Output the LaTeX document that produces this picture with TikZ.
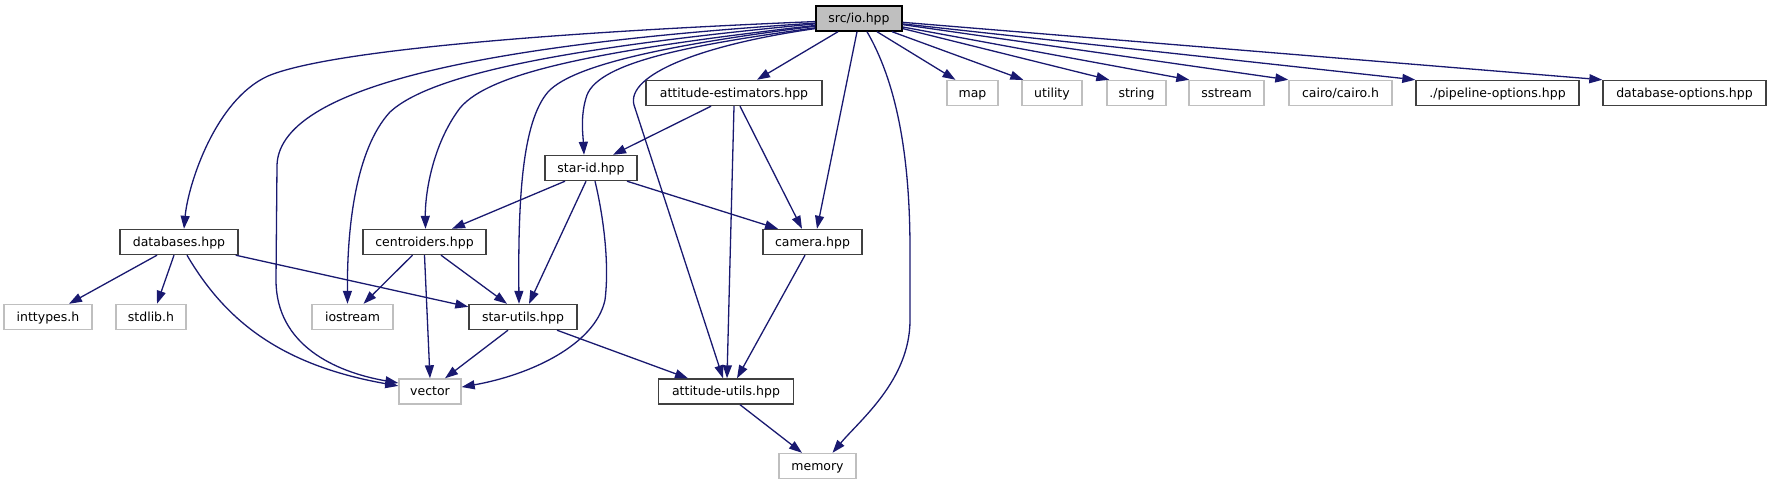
\documentclass[tikz,border=0pt]{standalone}
\usepackage{fontspec}
\setmainfont{DejaVu Sans}
\usetikzlibrary{arrows.meta}
\definecolor{edgeblue}{HTML}{191970}
\definecolor{boxdark}{HTML}{404040}
\definecolor{boxlight}{HTML}{BFBFBF}
\tikzset{
  filebox/.style={draw=boxdark, line width=1.4pt, fill=white, rectangle, inner sep=0pt,
    minimum height=25pt, font=\fontsize{12.5}{15}\selectfont, text height=10.5pt, text depth=2pt},
  sysbox/.style={filebox, draw=boxlight},
  rootbox/.style={filebox, draw=black, fill=boxlight},
  dep/.style={draw=edgeblue, line width=1.3pt, -{Triangle[length=13pt,width=9pt]}}
}
\begin{document}
\begin{tikzpicture}[x=1pt,y=-1pt]
\useasboundingbox (0,0) rectangle (1771,485);
% row 0
\node[rootbox, minimum width=86pt] (io) at (859,18.5) {src/io.hpp};
% row 1
\node[filebox, minimum width=176pt] (ae) at (734,93) {attitude-estimators.hpp};
\node[sysbox, minimum width=51pt] (map) at (972.5,93) {map};
\node[sysbox, minimum width=60pt] (utility) at (1052,93) {utility};
\node[sysbox, minimum width=59pt] (string) at (1136.5,93) {string};
\node[sysbox, minimum width=75pt] (sstream) at (1226.5,93) {sstream};
\node[sysbox, minimum width=103pt] (cairo) at (1340.5,93) {cairo/cairo.h};
\node[filebox, minimum width=163pt] (pipeline) at (1497.5,93) {./pipeline-options.hpp};
\node[filebox, minimum width=163pt] (dbopt) at (1684.5,93) {database-options.hpp};
% row 2
\node[filebox, minimum width=92pt] (starid) at (591,168) {star-id.hpp};
% row 3
\node[filebox, minimum width=118pt] (databases) at (179,242) {databases.hpp};
\node[filebox, minimum width=123pt] (centroiders) at (424.5,242) {centroiders.hpp};
\node[filebox, minimum width=99pt] (camera) at (812.5,242) {camera.hpp};
% row 4
\node[sysbox, minimum width=88pt] (inttypes) at (48,317) {inttypes.h};
\node[sysbox, minimum width=70pt] (stdlib) at (151,317) {stdlib.h};
\node[sysbox, minimum width=81pt] (iostream) at (352.5,317) {iostream};
\node[filebox, minimum width=108pt] (starutils) at (523,317) {star-utils.hpp};
% row 5
\node[sysbox, minimum width=62pt] (vector) at (430,391.5) {vector};
\node[filebox, minimum width=135pt] (attutils) at (726,391.5) {attitude-utils.hpp};
% row 6
\node[sysbox, minimum width=77pt] (memory) at (817.5,466) {memory};

% edges from src/io.hpp to the left
\draw[dep] (io.184) .. controls (560,32) and (330,50) .. (268,76)
  .. controls (215,100) and (188,185) .. ([xshift=5pt]databases.north);
\draw[dep] (io.186) .. controls (520,42) and (280,80) .. (277,165)
  -- (276,280) .. controls (276,345) and (335,372) .. (vector.165);
\draw[dep] (io.187.5) .. controls (560,48) and (430,75) .. (390,112)
  .. controls (355,150) and (347,230) .. ([xshift=-5pt]iostream.north);
\draw[dep] (io.189) .. controls (600,50) and (490,72) .. (460,108)
  .. controls (432,145) and (425,195) .. ([xshift=1pt]centroiders.north);
\draw[dep] (io.190.5) .. controls (690,42) and (575,62) .. (548,92)
  .. controls (522,122) and (518,200) .. ([xshift=-4pt]starutils.north);
\draw[dep] (io.192) .. controls (690,45) and (600,62) .. (587,95)
  .. controls (580,115) and (583,135) .. ([xshift=-7pt]starid.north);
\draw[dep] (io.193.5) .. controls (700,45) and (626,75) .. (634,105)
  -- ([xshift=-3pt]attutils.north);
% edges from src/io.hpp downwards
\draw[dep] ([xshift=-21pt]io.south) -- ([xshift=23pt]ae.north);
\draw[dep] ([xshift=-2pt]io.south) -- ([xshift=4.5pt]camera.north);
\draw[dep] ([xshift=8pt]io.south) .. controls (895,80) and (910,150) .. (910,250)
  -- (910,320) .. controls (910,380) and (860,420) .. ([xshift=15pt]memory.north);
% edges from src/io.hpp to the right
\draw[dep] ([xshift=18pt]io.south) -- ([xshift=-17pt]map.north);
\draw[dep] ([xshift=33pt]io.south) -- ([xshift=2pt]utility.north west);
\draw[dep] (io.-13) -- ([xshift=3pt]string.north west);
\draw[dep] (io.-11) -- ([xshift=1pt]sstream.north west);
\draw[dep] (io.-8) -- (cairo.north west);
\draw[dep] (io.-7) -- (pipeline.north west);
\draw[dep] (io.-5.5) -- (dbopt.north west);
% attitude-estimators.hpp
\draw[dep] ([xshift=-23pt]ae.south) -- ([xshift=22pt]starid.north);
\draw[dep] (ae.south) -- ([xshift=1pt]attutils.north);
\draw[dep] ([xshift=6pt]ae.south) -- ([xshift=-10.5pt]camera.north);
% star-id.hpp
\draw[dep] ([xshift=-26pt]starid.south) -- ([xshift=27.5pt]centroiders.north);
\draw[dep] ([xshift=-5pt]starid.south) -- ([xshift=6pt]starutils.north);
\draw[dep] ([xshift=4pt]starid.south) .. controls (602,210) and (610,260) .. (605,300)
  .. controls (595,345) and (530,375) .. (vector.8);
\draw[dep] ([xshift=36pt]starid.south) -- ([xshift=-34.5pt]camera.north);
% databases.hpp
\draw[dep] ([xshift=-22pt]databases.south) -- ([xshift=21pt]inttypes.north);
\draw[dep] ([xshift=-5pt]databases.south) -- ([xshift=6pt]stdlib.north);
\draw[dep] ([xshift=8pt]databases.south) .. controls (225,320) and (280,365) .. (vector.170);
\draw[dep] ([xshift=-3pt]databases.south east) -- ([yshift=-3pt]starutils.north west);
% centroiders.hpp
\draw[dep] ([xshift=-12pt]centroiders.south) -- ([xshift=11pt]iostream.north);
\draw[dep] (centroiders.south) -- (vector.north);
\draw[dep] ([xshift=16.5pt]centroiders.south) -- ([xshift=-16pt]starutils.north);
% star-utils.hpp
\draw[dep] ([xshift=-15pt]starutils.south) -- ([xshift=15pt]vector.north);
\draw[dep] ([xshift=34pt]starutils.south) -- ([xshift=-38pt]attutils.north);
% camera.hpp
\draw[dep] ([xshift=-7.5pt]camera.south) -- ([xshift=11pt]attutils.north);
% attitude-utils.hpp
\draw[dep] ([xshift=14pt]attutils.south) -- ([xshift=-15.5pt]memory.north);
\end{tikzpicture}
\end{document}
